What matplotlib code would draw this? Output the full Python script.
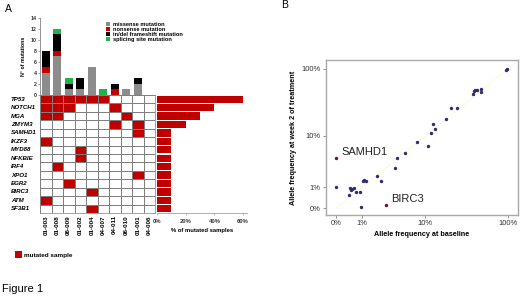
import numpy as np
import matplotlib
matplotlib.use('Agg')
import matplotlib.pyplot as plt
from matplotlib.colors import ListedColormap
from matplotlib.patches import Patch
import matplotlib.transforms as mtransforms

plt.rcParams['font.family'] = ['Liberation Sans', 'DejaVu Sans']

# ---------------- data: panel A ----------------
samples = ['01-003', '01-008', '06-009', '01-002', '01-004',
           '04-007', '04-011', '06-010', '01-001', '04-006']
missense = [4, 7, 1, 1, 5, 0, 0, 1, 2, 0]
nonsense = [1, 1, 0, 0, 0, 0, 1, 0, 0, 0]
indel = [3, 3, 1, 2, 0, 0, 1, 0, 1, 0]
splice = [0, 1, 1, 0, 0, 1, 0, 0, 0, 0]
mutation_types = ['missense mutation', 'nonsense mutation',
                  'in/del frameshift mutation', 'splicing site mutation']

genes = ['TP53', 'NOTCH1', 'MGA', 'ZMYM3', 'SAMHD1', 'IKZF3', 'MYD88',
         'NFKBIE', 'IRF4', 'XPO1', 'EGR2', 'BIRC3', 'ATM', 'SF3B1']
# indices of mutated samples for each gene
gene_hits = [[0, 1, 2, 3, 4, 5], [0, 1, 2, 6], [0, 1, 7], [6, 8], [8], [0],
             [3], [3], [1], [8], [2], [4], [0], [4]]
pct_mutated = [60, 40, 30, 20, 10, 10, 10, 10, 10, 10, 10, 10, 10, 10]
pct_ticks = [0, 20, 40, 60]

# ---------------- data: panel B ----------------
baseline = [95.6, 97.0, 40.3, 42.3, 39.3, 47.5, 47.5, 37.9, 20.7, 25.0,
            17.9, 12.4, 13.3, 11.9, 7.75, 10.65, 5.4, 4.12, 3.89, 2.0,
            2.36, 1.04, 1.13, 1.23, 0.0, 0.47, 0.53, 0.61, 0.49, 0.72,
            0.89, 0.41, 0.97]
week2 = [97.0, 100.4, 49.0, 49.6, 48.0, 50.8, 45.4, 42.4, 26.9, 26.9,
         18.0, 15.4, 12.9, 10.9, 8.06, 6.93, 5.17, 4.23, 2.83, 1.94,
         1.49, 1.47, 1.53, 1.49, 1.04, 0.98, 0.89, 0.94, 0.85, 0.73,
         0.73, 0.55, 0.03]
hl_genes = ['SAMHD1', 'BIRC3']
hl_baseline = [0.0, 2.85]
hl_week2 = [4.28, 0.13]
freq_ticks = [0, 1, 10, 100]
freq_labels = ['0%', '1%', '10%', '100%']

# ---------------- layout ----------------
W, H = 520, 296
fig = plt.figure(figsize=(W / 100, H / 100), dpi=100)


def rect(l, t, r, b):
    return [l / W, 1 - b / H, (r - l) / W, (b - t) / H]


def fx(x):
    return x / W


def fy(y):
    return 1 - y / H


RED = '#c00000'
GRAY = '#8c8c8c'
GREEN = '#22b14c'
BLACK = '#000000'
EDGE = '#7f7f7f'

# ---- stacked bar chart ----
axb = fig.add_axes(rect(40, 17.5, 155, 95))
xpos = np.arange(len(samples)) + 0.5
bottom = np.zeros(len(samples))
handles = []
for vals, col in zip([missense, nonsense, indel, splice], [GRAY, RED, BLACK, GREEN]):
    v = np.array(vals, float)
    axb.bar(xpos, v, bottom=bottom, width=0.72, color=col, linewidth=0)
    bottom += v
    handles.append(Patch(facecolor=col, edgecolor='none'))
axb.set_xlim(0, len(samples))
axb.set_ylim(0, 14)
axb.set_yticks(range(0, 15, 2))
axb.set_xticks([])
for s in ['top', 'right', 'bottom']:
    axb.spines[s].set_visible(False)
axb.spines['left'].set_color('#808080')
axb.spines['left'].set_linewidth(0.6)
axb.tick_params(axis='y', labelsize=3.8, length=1.5, width=0.5, pad=1,
                color='#808080', labelcolor='#333333')
for lbl in axb.get_yticklabels():
    lbl.set_fontweight('bold')
axb.set_ylabel('N° of mutations', fontsize=3.8, fontweight='bold', labelpad=3.5)
axb.legend(handles, mutation_types, loc='upper left',
           bbox_to_anchor=(fx(105.5), fy(22.3)), bbox_transform=fig.transFigure,
           prop={'size': 4.1, 'weight': 'bold'}, handlelength=0.75,
           handleheight=0.75, handletextpad=0.5, labelspacing=-0.05,
           borderpad=0, borderaxespad=0, frameon=False)

# ---- mutation grid ----
axg = fig.add_axes(rect(40, 95, 155, 213))
M = np.zeros((len(genes), len(samples)))
for i, hits in enumerate(gene_hits):
    for j in hits:
        M[i, j] = 1
axg.pcolormesh(np.arange(len(samples) + 1), np.arange(len(genes) + 1), M,
               cmap=ListedColormap(['white', RED]), vmin=0, vmax=1,
               edgecolors=EDGE, linewidth=0.5)
axg.set_xlim(0, len(samples))
axg.set_ylim(len(genes), 0)
for s in axg.spines.values():
    s.set_color(EDGE)
    s.set_linewidth(0.5)
axg.set_yticks([])
axg.set_xticks(xpos)
axg.set_xticklabels(samples, rotation=90, fontsize=4.5, fontweight='bold', va='top')
axg.tick_params(axis='x', length=0, pad=1.5)
tr = mtransforms.blended_transform_factory(fig.transFigure, axg.transData)
for i, g in enumerate(genes):
    axg.text(fx(11), i + 0.5, g, transform=tr, ha='left', va='center',
             fontsize=4.4, fontweight='bold', fontstyle='italic')

# ---- percent mutated bars ----
px_per_pct = 86 / 60
xmax = 63
axp = fig.add_axes(rect(157, 95, 157 + xmax * px_per_pct, 213))
axp.barh(np.arange(len(genes)) + 0.5, pct_mutated, height=0.85, color=RED, linewidth=0)
axp.set_ylim(len(genes), 0)
axp.set_xlim(0, xmax)
axp.set_yticks([])
for s in ['top', 'right', 'left']:
    axp.spines[s].set_visible(False)
axp.spines['bottom'].set_color('#a0a0a0')
axp.spines['bottom'].set_linewidth(0.6)
axp.set_xticks(pct_ticks)
axp.set_xticklabels([f'{t}%' for t in pct_ticks], fontsize=4.2, fontweight='bold',
                    color='#333333')
axp.tick_params(axis='x', length=1.5, width=0.5, color='#a0a0a0', pad=2.5)
axp.set_xlabel('% of mutated samples', fontsize=4.2, fontweight='bold', labelpad=3)

# ---- legend "mutated sample" ----
fig.legend([Patch(facecolor=RED, edgecolor='none')], ['mutated sample'],
           loc='center left', bbox_to_anchor=(fx(14.5), fy(254.5)),
           prop={'size': 4.6, 'weight': 'bold'}, handlelength=1.15,
           handleheight=1.15, handletextpad=0.35, borderpad=0,
           borderaxespad=0, frameon=False)

# ---- panel labels ----
fig.text(fx(4.5), fy(9.5), 'A', fontsize=7.5, ha='left', va='center')
fig.text(fx(281), fy(5.5), 'B', fontsize=7.5, ha='left', va='center')
fig.text(fx(1.5), fy(289), 'Figure 1', fontsize=8, ha='left', va='center')

# ---- panel B scatter ----
axs = fig.add_axes(rect(326, 60, 518, 215))


def fwd(v):
    return np.log10(np.asarray(v, float) + 1)


def inv(u):
    return 10 ** np.asarray(u, float) - 1


axs.set_xscale('function', functions=(fwd, inv))
axs.set_yscale('function', functions=(fwd, inv))
axs.set_xlim(-0.2353, 130.7)
axs.set_ylim(-0.1985, 134.1)
axs.plot([0, 130], [0, 130], color='#eeeac2', lw=0.7, ls=':', zorder=1)
axs.scatter(baseline, week2, s=6, color='#2e2b73', linewidths=0, zorder=3)
axs.scatter(hl_baseline, hl_week2, s=6, color='#7a0a2a', linewidths=0, zorder=3)
for g, bx, wy in zip(hl_genes, hl_baseline, hl_week2):
    axs.annotate(g, xy=(bx, wy), xytext=(3.6, 4.2), textcoords='offset points',
                 ha='left', va='center', fontsize=8, color='#222222')
axs.set_xticks(freq_ticks)
axs.set_xticklabels(freq_labels)
axs.set_yticks(freq_ticks)
axs.set_yticklabels(freq_labels)
axs.xaxis.set_minor_locator(matplotlib.ticker.NullLocator())
axs.yaxis.set_minor_locator(matplotlib.ticker.NullLocator())
axs.tick_params(labelsize=5.5, length=2.2, width=0.6, color='#808080',
                labelcolor='#333333', pad=1.5)
for s in axs.spines.values():
    s.set_color('#a8a8a8')
    s.set_linewidth(1.0)
axs.set_xlabel('Allele frequency at baseline', fontsize=5.2, fontweight='bold', labelpad=3)
axs.set_ylabel('Allele frequency at week 2 of treatment', fontsize=5.2,
               fontweight='bold', labelpad=3)

fig.savefig('out.png', dpi=100)
